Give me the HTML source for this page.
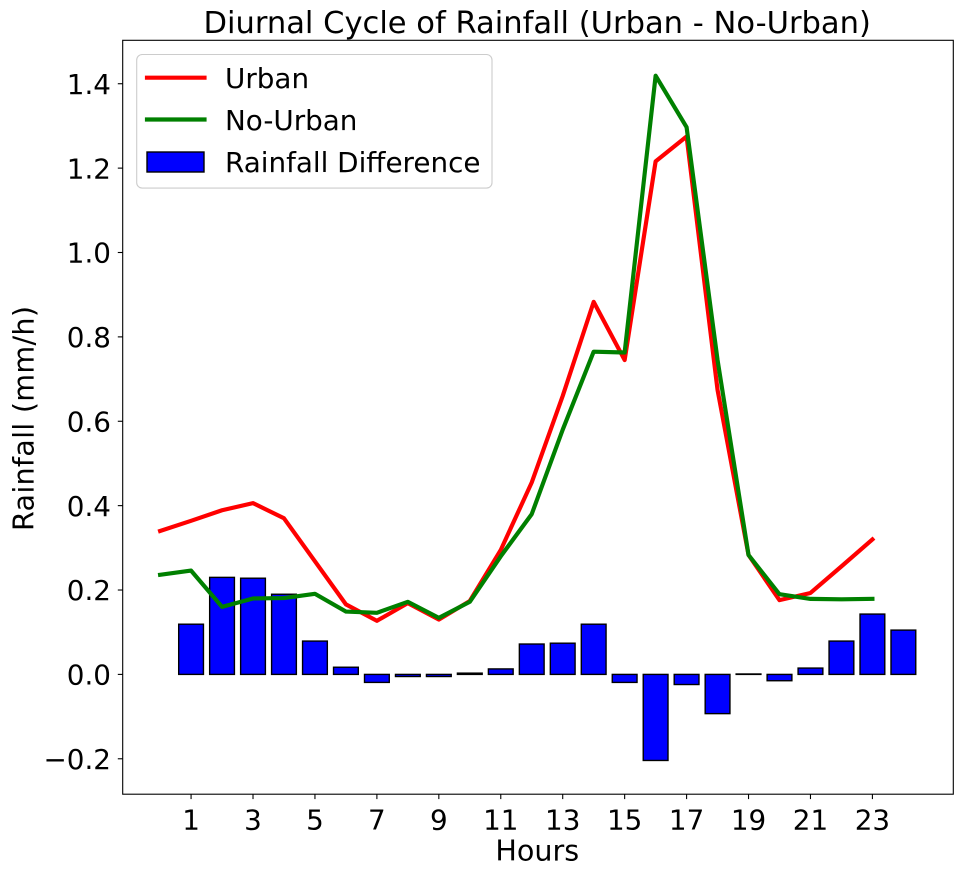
<!DOCTYPE html>
<html>
<head>
<meta charset="utf-8">
<title>Diurnal Cycle of Rainfall</title>
<style>
html,body{margin:0;padding:0;background:#fff;}
svg{display:block;}
text{font-family:"DejaVu Sans",sans-serif;fill:#000;}
</style>
</head>
<body>
<svg id="chart" xmlns="http://www.w3.org/2000/svg" width="967" height="872" viewBox="0 0 967 872">
  <rect x="0" y="0" width="967" height="872" fill="#fff"/>
  <g id="bars"></g>
  <g id="lines"></g>
  <g id="x-ticks"></g>
  <g id="y-ticks"></g>
  <rect x="122.7" y="40.3" width="830.6" height="753.9" fill="none" stroke="#000" stroke-width="1.1"/>
  <text x="537.2" y="33" font-size="30.55" text-anchor="middle">Diurnal Cycle of Rainfall (Urban - No-Urban)</text>
  <text x="537.3" y="860.3" font-size="28.6" text-anchor="middle">Hours</text>
  <text transform="translate(33.5,418.5) rotate(-90)" font-size="28.6" text-anchor="middle" textLength="225" lengthAdjust="spacing">Rainfall (mm/h)</text>
  <g>
    <rect x="136.7" y="54.5" width="355.3" height="133.6" rx="5.5" ry="5.5" fill="#fff" fill-opacity="0.8" stroke="#ccc" stroke-width="1.1"/>
    <line x1="147" y1="77.7" x2="204.5" y2="77.7" stroke="#ff0000" stroke-width="4.17" stroke-linecap="square"/>
    <text x="225" y="88" font-size="27.8">Urban</text>
    <line x1="147" y1="119.5" x2="204.5" y2="119.5" stroke="#008000" stroke-width="4.17" stroke-linecap="square"/>
    <text x="225" y="130" font-size="27.8">No-Urban</text>
    <rect x="147" y="152" width="57" height="20" fill="#0000ff" stroke="#000" stroke-width="1.39"/>
    <text x="225" y="172" font-size="27.8">Rainfall Difference</text>
  </g>
</svg>
<script>
var lineHours = [0,1,2,3,4,5,6,7,8,9,10,11,12,13,14,15,16,17,18,19,20,21,22,23];
var urbanValues = [0.340,0.364,0.389,0.406,0.370,0.268,0.166,0.127,0.169,0.130,0.174,0.295,0.455,0.660,0.883,0.745,1.216,1.275,0.674,0.283,0.176,0.193,0.256,0.320];
var noUrbanValues = [0.236,0.246,0.160,0.180,0.181,0.191,0.149,0.146,0.172,0.134,0.172,0.280,0.380,0.580,0.765,0.763,1.419,1.297,0.745,0.283,0.190,0.179,0.178,0.179];
var barHours = [1,2,3,4,5,6,7,8,9,10,11,12,13,14,15,16,17,18,19,20,21,22,23,24];
var differenceValues = [0.119,0.230,0.228,0.190,0.079,0.017,-0.019,-0.005,-0.005,0.003,0.013,0.072,0.074,0.119,-0.019,-0.204,-0.024,-0.093,0.001,-0.015,0.015,0.079,0.143,0.105];
var xTickValues = [1,3,5,7,9,11,13,15,17,19,21,23];
var yTickValues = [-0.2,0,0.2,0.4,0.6,0.8,1.0,1.2,1.4];
var barWidthHours = 0.8;

var NS = 'http://www.w3.org/2000/svg';
function xScale(h){ return 160.1 + 30.97 * h; }
function yScale(v){ return 674.4 - 421.9 * v; }
function make(tag, parent){
  var node = document.createElementNS(NS, tag);
  parent.appendChild(node);
  return node;
}

var barsGroup = document.getElementById('bars');
differenceValues.forEach(function(value, i){
  var el = make('rect', barsGroup);
  
  
  var half = barWidthHours / 2;
  var x0 = xScale(barHours[i] - half);
  var x1 = xScale(barHours[i] + half);
  var yTop = Math.min(yScale(value), yScale(0));
  var yBottom = Math.max(yScale(value), yScale(0));
  el.setAttribute('x', x0);
  el.setAttribute('y', yTop);
  el.setAttribute('width', x1 - x0);
  el.setAttribute('height', yBottom - yTop);
  el.setAttribute('fill', '#0000ff');
  el.setAttribute('stroke', '#000');
  el.setAttribute('stroke-width', '1.39');
});

var linesGroup = document.getElementById('lines');
function drawLine(values, color, name){
  var el = make('polyline', linesGroup);
  
  
  var pts = values.map(function(v, i){
    return xScale(lineHours[i]).toFixed(2) + ',' + yScale(v).toFixed(2);
  }).join(' ');
  el.setAttribute('points', pts);
  el.setAttribute('fill', 'none');
  el.setAttribute('stroke', color);
  el.setAttribute('stroke-width', '4.17');
  el.setAttribute('stroke-linejoin', 'round');
  el.setAttribute('stroke-linecap', 'square');
}
drawLine(urbanValues, '#ff0000', 'urban-line');
drawLine(noUrbanValues, '#008000', 'no-urban-line');

var xTicksGroup = document.getElementById('x-ticks');
xTickValues.forEach(function(value){
  var mark = make('line', xTicksGroup);
  
  
  mark.setAttribute('x1', xScale(value));
  mark.setAttribute('x2', xScale(value));
  mark.setAttribute('y1', 794.2);
  mark.setAttribute('y2', 799.1);
  mark.setAttribute('stroke', '#000');
  mark.setAttribute('stroke-width', '1.1');
  var label = make('text', xTicksGroup);
  
  
  label.setAttribute('x', xScale(value));
  label.setAttribute('y', 829.5);
  label.setAttribute('font-size', '27.8');
  label.setAttribute('text-anchor', 'middle');
  label.textContent = String(value);
});

var yTicksGroup = document.getElementById('y-ticks');
yTickValues.forEach(function(value){
  var mark = make('line', yTicksGroup);
  
  
  mark.setAttribute('x1', 117.8);
  mark.setAttribute('x2', 122.7);
  mark.setAttribute('y1', yScale(value));
  mark.setAttribute('y2', yScale(value));
  mark.setAttribute('stroke', '#000');
  mark.setAttribute('stroke-width', '1.1');
  var label = make('text', yTicksGroup);
  
  
  label.setAttribute('x', 111);
  label.setAttribute('y', yScale(value) + 10.2);
  label.setAttribute('font-size', '27.8');
  label.setAttribute('text-anchor', 'end');
  label.textContent = value < 0 ? '\u2212' + Math.abs(value).toFixed(1) : value.toFixed(1);
});
</script>
</body>
</html>
